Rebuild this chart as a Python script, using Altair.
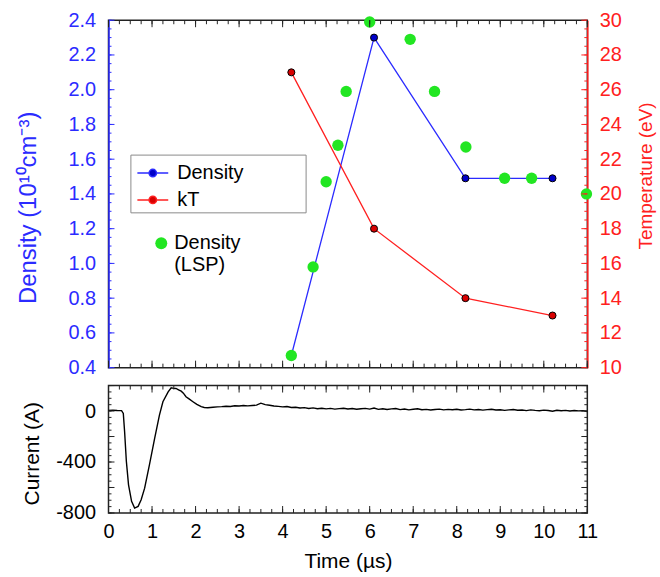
import altair as alt
import pandas as pd

# ---------------- data ----------------
t_meas = [4.2, 6.1, 8.2, 10.2]
density = [0.47, 2.30, 1.49, 1.49]
kT = [27.0, 18.0, 14.0, 13.0]

t_lsp = [4.2, 4.7, 5.0, 5.27, 5.46, 6.0, 6.93, 7.49, 8.21, 9.1, 9.72, 10.98]
dens_lsp = [0.47, 0.98, 1.47, 1.68, 1.99, 2.39, 2.29, 1.99, 1.67, 1.49, 1.49, 1.40]

t_cur_early = [0.0, 0.1, 0.2, 0.3, 0.34, 0.37, 0.41, 0.46, 0.53, 0.60, 0.68, 0.75,
               0.83, 0.94, 1.06, 1.17, 1.25, 1.37, 1.44, 1.50, 1.55, 1.62, 1.67,
               1.72, 1.78, 1.85, 1.94, 2.03, 2.13, 2.20, 2.28, 2.40, 2.50]
cur_early = [5, 6, 4, 3, -19, -162, -394, -579, -709, -761, -748, -696,
             -605, -423, -214, -32, 73, 151, 182, 178, 177, 165, 156,
             140, 112, 95, 73, 52, 34, 28, 26, 30, 33]
cur_late = [35, 38, 36, 41, 40, 43, 41, 44, 46, 62,
            50, 45, 40, 37, 33, 36, 28, 30, 24, 27,
            20, 25, 18, 22, 17, 21, 15, 19, 22, 16,
            20, 14, 18, 21, 15, 24, 13, 18, 12, 17,
            20, 11, 16, 9, 14, 18, 10, 13, 8, 12,
            15, 9, 13, 10, 14, 8, 11, 15, 9, 12,
            7, 11, 14, 8, 10, 5, 9, 12, 6, 8,
            3, 9, 5, 2, 7, 4, -1, 6, 2, 5,
            0, 4, 1, 3, -4]
t_cur_late = [round(2.6 + 0.1 * i, 1) for i in range(len(cur_late))]
t_cur = t_cur_early + t_cur_late
current = cur_early + cur_late

series_names = ["Density", "kT"]
lsp_name = "Density (LSP)"

# tick positions
x_major = list(range(12))
x_minor = [i * 0.25 for i in range(45)]
dens_major = [0.4, 0.6, 0.8, 1.0, 1.2, 1.4, 1.6, 1.8, 2.0, 2.2, 2.4]
dens_minor = [round(0.4 + 0.05 * i, 2) for i in range(41)]
temp_major = [10, 12, 14, 16, 18, 20, 22, 24, 26, 28, 30]
temp_minor = [10 + 0.5 * i for i in range(41)]
cur_labels = [0, -400, -800]
cur_major = [200, 0, -200, -400, -600, -800]
cur_minor = [200 - 50 * i for i in range(21)]

# ---------------- style ----------------
W, H, H2 = 481, 349, 128
FONT = "Liberation Sans"
BLUE = "#2b2bff"
RED = "#ff2020"
GREEN = "#22e622"
FRAME = "#222222"

dens_df = pd.DataFrame({"t": t_meas, "v": density, "s": series_names[0]})
kt_df = pd.DataFrame({"t": t_meas, "v": kT, "s": series_names[1]})
lsp_df = pd.DataFrame({"t": t_lsp, "v": dens_lsp, "s": lsp_name})
cur_df = pd.DataFrame({"t": t_cur, "v": current})

xs = alt.Scale(domain=[0, 11], nice=False, zero=False)
ds = alt.Scale(domain=[0.4, 2.4], nice=False, zero=False)
ts = alt.Scale(domain=[10, 30], nice=False, zero=False)
cs = alt.Scale(domain=[-800, 200], nice=False, zero=False)

SYM = ("M-1,0L-0.24,0M0.24,0L1,0M0.24,0A0.24,0.24,0,1,1,-0.24,0"
       "A0.24,0.24,0,1,1,0.24,0Z")
PADTXT = "\u00a0" * 8 + "\u2800"


def series_legend():
    return alt.Legend(orient="none", legendX=22, legendY=135, title=None,
                      symbolType=SYM, symbolSize=961, symbolStrokeWidth=1.5,
                      labelFont=FONT, labelFontSize=20, labelOffset=8,
                      padding=2, rowPadding=0, symbolOffset=4,
                      strokeColor="#8a8a8a", labelExpr="datum.label + '" + PADTXT + "'")


stroke_enc = alt.Stroke("s:N", scale=alt.Scale(domain=series_names, range=[BLUE, RED]),
                        legend=series_legend())
fill_enc = alt.Fill("s:N", scale=alt.Scale(domain=series_names, range=["#0000c8", "#d80000"]),
                    legend=series_legend())
green_enc = alt.Color(
    "s:N",
    scale=alt.Scale(domain=[lsp_name], range=[GREEN]),
    legend=alt.Legend(orient="none", legendX=43, legendY=214, title=None,
                      symbolType="circle", symbolSize=144, symbolStrokeWidth=0,
                      labelFont=FONT, labelFontSize=20, labelOffset=3, padding=0,
                      labelExpr="['Density', '(LSP)']"),
)

x_plain = alt.X("t:Q", scale=xs, axis=None)


def vticks(values, scale, x0, x1, color, axis=None):
    df = pd.DataFrame({"v": values})
    return alt.Chart(df).mark_rule(color=color, strokeWidth=1).encode(
        y=alt.Y("v:Q", scale=scale, axis=axis), x=alt.value(x0), x2=alt.value(x1))


def hticks(values, y0, y1, color=FRAME, axis=None):
    df = pd.DataFrame({"v": values})
    return alt.Chart(df).mark_rule(color=color, strokeWidth=1).encode(
        x=alt.X("v:Q", scale=xs, axis=axis), y=alt.value(y0), y2=alt.value(y1))


# ---- top panel ----
dens_axis = alt.Axis(orient="left", values=dens_major, format=".1f", ticks=False,
                     labelFlush=False, domain=True, domainColor=BLUE, domainWidth=1.5,
                     labelColor=BLUE, labelPadding=13,
                     title="Density  (10¹⁰cm⁻³)", titleColor=BLUE, titleFontSize=24,
                     titleX=-80, titleY=188, titleAngle=270,
                     titleBaseline="middle", titleAlign="center")
y_dens = alt.Y("v:Q", scale=ds, axis=dens_axis)

dens_line = alt.Chart(dens_df).mark_line(strokeWidth=1.3).encode(x=x_plain, y=y_dens, stroke=stroke_enc)
dens_pts = alt.Chart(dens_df).mark_point(filled=True, size=50, opacity=1).encode(
    x=x_plain, y=y_dens, fill=fill_enc)
dens_ring = alt.Chart(dens_df).mark_point(filled=False, size=50, color="black", strokeWidth=1,
                                          opacity=1).encode(x=x_plain, y=y_dens)
lsp_pts = alt.Chart(lsp_df).mark_circle(size=130, opacity=1).encode(x=x_plain, y=y_dens, color=green_enc)
dens_layer = alt.layer(dens_line, dens_pts, dens_ring, lsp_pts)

kt_axis = alt.Axis(orient="right", values=temp_major, ticks=False, labelFlush=False,
                   domain=True, domainColor=RED, domainWidth=1.5, labelColor=RED, labelPadding=12,
                   title="Temperature (eV)", titleColor=RED, titleFontSize=19,
                   titleX=58, titleY=156, titleAngle=270,
                   titleBaseline="middle", titleAlign="center")
y_kt = alt.Y("v:Q", scale=ts, axis=kt_axis)
kt_line = alt.Chart(kt_df).mark_line(strokeWidth=1.3).encode(x=x_plain, y=y_kt, stroke=stroke_enc)
kt_pts = alt.Chart(kt_df).mark_point(filled=True, size=50, opacity=1).encode(
    x=x_plain, y=y_kt, fill=fill_enc)
kt_ring = alt.Chart(kt_df).mark_point(filled=False, size=50, color="black", strokeWidth=1,
                                      opacity=1).encode(x=x_plain, y=y_kt)
kt_layer = alt.layer(kt_line, kt_pts, kt_ring)

top_ticks_d = alt.layer(vticks(dens_major, ds, 0, 6, BLUE), vticks(dens_minor, ds, 0, 3, BLUE))
top_ticks_t = alt.layer(vticks(temp_major, ts, W, W - 6, RED), vticks(temp_minor, ts, W, W - 3, RED))
top_ticks_x = alt.layer(hticks(x_major, 0, 7), hticks(x_minor, 0, 4),
                        hticks(x_major, H, H - 7), hticks(x_minor, H, H - 4))

top = alt.layer(dens_layer, kt_layer, top_ticks_d, top_ticks_t, top_ticks_x).resolve_scale(
    y="independent").properties(width=W, height=H)

# ---- bottom panel ----
cur_x_axis = alt.Axis(
    orient="bottom", values=x_major, format="d", ticks=False, domain=False, labelFlush=False,
    labelPadding=9, title="Time (µs)", titleFontSize=21, titleX=W / 2, titleY=49,
    titleBaseline="middle", titleAlign="center")
cur_y_axis = alt.Axis(
    orient="left", values=cur_labels, labelExpr="'' + datum.value", ticks=False,
    domain=False, labelFlush=False, labelPadding=13,
    title="Current (A)", titleFontSize=21, titleX=-76, titleY=68, titleAngle=270,
    titleBaseline="middle", titleAlign="center")
cur_line = alt.Chart(cur_df).mark_line(color="black", strokeWidth=1.4).encode(
    x=alt.X("t:Q", scale=xs, axis=cur_x_axis), y=alt.Y("v:Q", scale=cs, axis=cur_y_axis))

bot_ticks = alt.layer(
    vticks(cur_major, cs, 0, 6, FRAME, cur_y_axis), vticks(cur_minor, cs, 0, 3, FRAME, cur_y_axis),
    vticks(cur_major, cs, W, W - 6, FRAME, cur_y_axis), vticks(cur_minor, cs, W, W - 3, FRAME, cur_y_axis),
    hticks(x_major, 0, 7, FRAME, cur_x_axis), hticks(x_minor, 0, 4, FRAME, cur_x_axis),
    hticks(x_major, H2, H2 - 7, FRAME, cur_x_axis), hticks(x_minor, H2, H2 - 4, FRAME, cur_x_axis))

bottom = alt.layer(cur_line, bot_ticks).properties(width=W, height=H2)

chart = alt.vconcat(top, bottom, spacing=18, bounds="flush").properties(
    padding={"left": 16, "top": 8, "right": 4, "bottom": 4}
).configure_view(stroke=FRAME, strokeWidth=1.5).configure_axis(
    grid=False, labelFont=FONT, titleFont=FONT, labelFontSize=20, labelFlush=False,
    titleFontWeight="normal", labelColor="black", titleColor="black"
).configure_legend(labelFont=FONT)

chart.save("out.html", embed_options={"renderer": "svg", "actions": False})
